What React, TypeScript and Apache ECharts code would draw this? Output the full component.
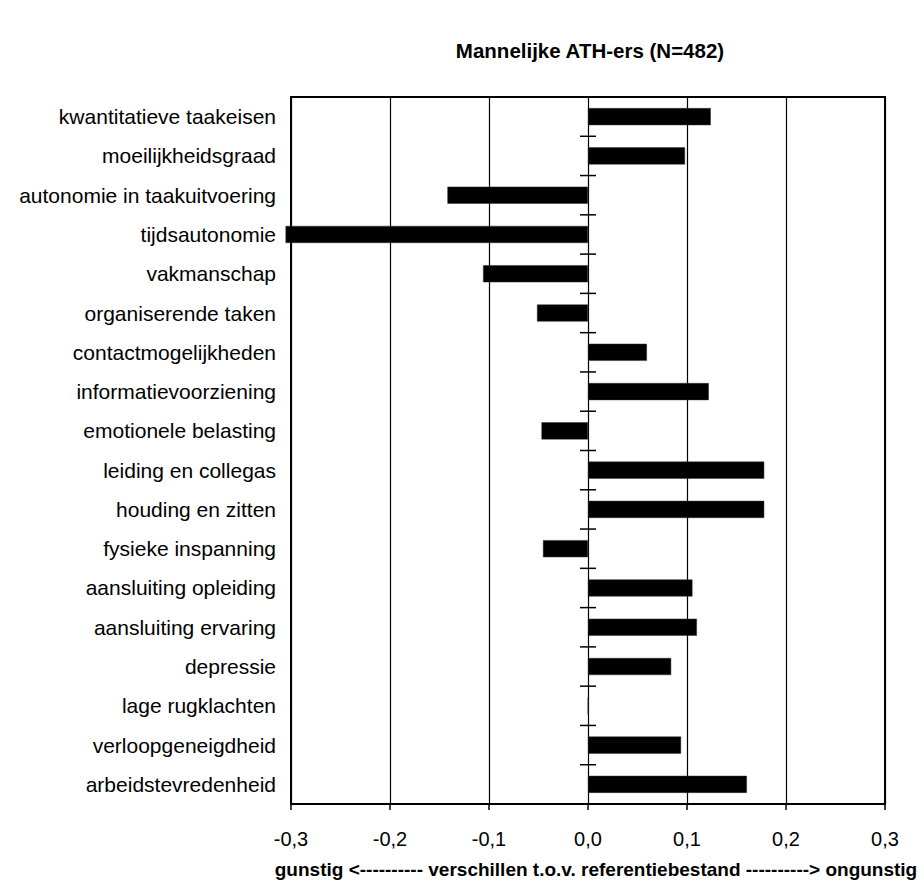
import React, { useEffect, useRef } from "react";
import * as echarts from "echarts";

const categories: string[] = [
  "kwantitatieve taakeisen",
  "moeilijkheidsgraad",
  "autonomie in taakuitvoering",
  "tijdsautonomie",
  "vakmanschap",
  "organiserende taken",
  "contactmogelijkheden",
  "informatievoorziening",
  "emotionele belasting",
  "leiding en collegas",
  "houding en zitten",
  "fysieke inspanning",
  "aansluiting opleiding",
  "aansluiting ervaring",
  "depressie",
  "lage rugklachten",
  "verloopgeneigdheid",
  "arbeidstevredenheid",
];

const values: number[] = [
  0.124, 0.098, -0.142, -0.3055, -0.106, -0.0515, 0.0595, 0.122, -0.047,
  0.178, 0.178, -0.0455, 0.1055, 0.11, 0.084, 0, 0.094, 0.1605,
];

const xMin = -0.3;
const xMax = 0.3;
const xInterval = 0.1;

const titleText = "Mannelijke ATH-ers (N=482)";
const axisTitleText =
  "gunstig <---------- verschillen t.o.v. referentiebestand ----------> ongunstig";

const FONT = '"Liberation Sans", Arial, Helvetica, sans-serif';

export default function App() {
  const ref = useRef<HTMLDivElement>(null);

  useEffect(() => {
    if (!ref.current) return;
    const chart = echarts.init(ref.current, undefined, { renderer: "svg" });
    const boundaries = Array.from({ length: categories.length + 1 }, (_, i) => i);
    chart.setOption({
      animation: false,
      backgroundColor: "#ffffff",
      textStyle: { fontFamily: FONT },
      grid: {
        left: 291,
        right: 39,
        top: 97,
        bottom: 86,
        show: true,
        borderColor: "#000",
        borderWidth: 2,
        containLabel: false,
      },
      xAxis: {
        type: "value",
        min: xMin,
        max: xMax,
        interval: xInterval,
        axisLine: { show: true, onZero: false, lineStyle: { color: "#000", width: 2 } },
        axisTick: { show: true, length: 6, lineStyle: { color: "#000", width: 1.5 } },
        axisLabel: {
          margin: 25,
          color: "#000",
          fontSize: 20,
          fontFamily: FONT,
          formatter: (v: number) => v.toFixed(1).replace(".", ","),
        },
        splitLine: { show: true, lineStyle: { color: "#000", width: 1.2 } },
      },
      yAxis: {
        type: "category",
        data: categories,
        inverse: true,
        axisLine: { show: false, onZero: false },
        axisTick: { show: false },
        axisLabel: {
          margin: 15,
          color: "#000",
          fontSize: 21,
          fontFamily: FONT,
        },
        splitLine: { show: false },
      },
      series: [
        {
          type: "bar",
          data: values,
          barCategoryGap: "56.5%",
          clip: false,
          itemStyle: { color: "#000", borderColor: "#333", borderWidth: 0.5 },
        },
        {
          type: "custom",
          data: boundaries,
          clip: false,
          silent: true,
          renderItem: (params: any, api: any) => {
            const k = params.dataIndex;
            const p0 = api.coord([0, 0]);
            const h = api.size([0, 1])[1];
            const y = p0[1] - h / 2 + k * h;
            return {
              type: "line",
              shape: { x1: p0[0] - 8, y1: y, x2: p0[0] + 8, y2: y },
              style: { stroke: "#000", lineWidth: 1.5 },
            };
          },
        },
      ],
      graphic: [
        {
          type: "text",
          x: 590,
          y: 50,
          style: {
            text: titleText,
            font: `bold 20.5px ${FONT}`,
            fill: "#000",
            textAlign: "center",
            textVerticalAlign: "middle",
          },
        },
        {
          type: "text",
          x: 596,
          y: 869,
          style: {
            text: axisTitleText,
            font: `bold 19px ${FONT}`,
            fill: "#000",
            textAlign: "center",
            textVerticalAlign: "middle",
          },
        },
      ],
    });
    return () => chart.dispose();
  }, []);

  return (
    <div
      ref={ref}
      style={{ position: "fixed", left: 0, top: 0, width: 924, height: 890 }}
    />
  );
}
